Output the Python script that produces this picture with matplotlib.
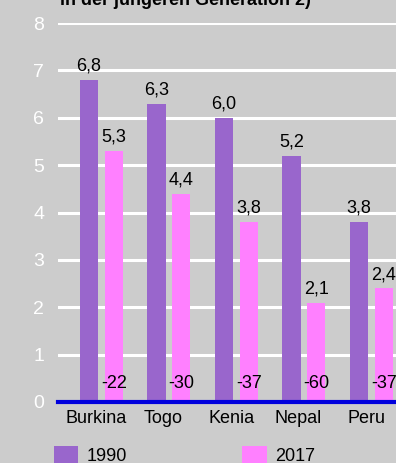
import matplotlib
matplotlib.use("Agg")
import matplotlib.pyplot as plt
from matplotlib.patches import Patch
from matplotlib import font_manager

names = {f.name for f in font_manager.fontManager.ttflist}
FONT = "Liberation Sans Narrow" if "Liberation Sans Narrow" in names else "Liberation Sans"
plt.rcParams["font.family"] = [FONT, "DejaVu Sans"]

countries = ["Burkina", "Togo", "Kenia", "Nepal", "Peru"]
v1990 = [6.8, 6.3, 6.0, 5.2, 3.8]
v2017 = [5.3, 4.4, 3.8, 2.1, 2.4]
change = ["-22", "-30", "-37", "-60", "-37"]
labels1990 = ["6,8", "6,3", "6,0", "5,2", "3,8"]
labels2017 = ["5,3", "4,4", "3,8", "2,1", "2,4"]
yticks = [0, 1, 2, 3, 4, 5, 6, 7, 8]
title = "in der jüngeren Generation 2)"

BG = "#cccccc"
PURPLE = "#9966cc"
PINK = "#ff80ff"
BLUE = "#0000dd"

W, H = 396, 463
fig = plt.figure(figsize=(W / 100, H / 100), dpi=100, facecolor=BG)
ax = fig.add_axes([58 / W, 61 / H, 338 / W, 379 / H], facecolor=BG)

x = list(range(len(countries)))
off = 0.185
bw = 0.267
b1 = ax.bar([i - off for i in x], v1990, width=bw, color=PURPLE, zorder=3)
b2 = ax.bar([i + off for i in x], v2017, width=bw, color=PINK, zorder=3)

for i in x:
    ax.annotate(labels1990[i], (i - off, v1990[i]), xytext=(0, 6.5), textcoords="offset points",
                ha="center", va="baseline", fontsize=13, color="black", zorder=5)
    ax.annotate(labels2017[i], (i + off, v2017[i]), xytext=(0, 6.5), textcoords="offset points",
                ha="center", va="baseline", fontsize=13, color="black", zorder=5)
    ax.annotate(change[i], (i + off, 0), xytext=(0, 10), textcoords="offset points",
                ha="center", va="baseline", fontsize=13, color="black", zorder=5)

ax.set_xlim(-0.644, 4.363)
ax.set_ylim(0, 8)
ax.set_yticks(yticks)
ax.set_yticklabels([str(t) for t in yticks])
ax.yaxis.grid(True, color="white", linewidth=2.2, zorder=1)
ax.set_axisbelow(True)
ax.tick_params(axis="y", length=0, pad=10, labelsize=14, labelcolor="white")
ax.set_xticks([i - 0.08 for i in x])
ax.set_xticklabels(countries)
ax.tick_params(axis="x", length=0, pad=6, labelsize=13, labelcolor="black")
for s in ax.spines.values():
    s.set_visible(False)
ax.axhline(0, color=BLUE, linewidth=3, zorder=4, clip_on=False)

fig.text(60 / W, 1 - 5 / H, title, fontsize=13, fontweight="bold", color="black",
         ha="left", va="baseline")

handles = [Patch(facecolor=PURPLE, edgecolor="none", label="1990"),
           Patch(facecolor=PINK, edgecolor="none", label="2017")]
fig.legend(handles=handles, loc="upper left", bbox_to_anchor=(54 / W, 1 - 446 / H),
           ncol=2, frameon=False, fontsize=13, handlelength=1.35, handleheight=1.1,
           handletextpad=0.45, columnspacing=6.4, borderaxespad=0, borderpad=0)

fig.savefig("out.png", dpi=100, facecolor=BG)
